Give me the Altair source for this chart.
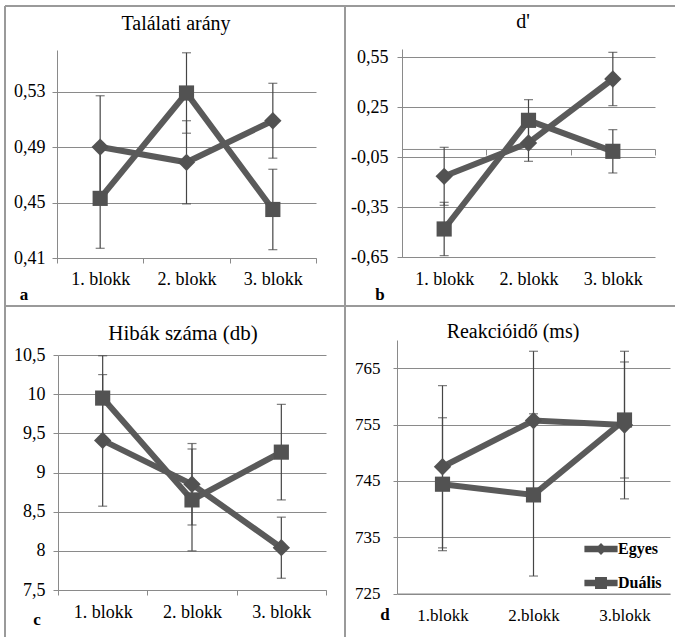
import altair as alt
import pandas as pd

# ---------------- data ----------------
BLOCKS = ["1. blokk", "2. blokk", "3. blokk"]
BLOCKS_D = ["1.blokk", "2.blokk", "3.blokk"]
SERIES = ["Egyes", "Duális"]

# a: Találati arány
A_EGYES = [0.490, 0.479, 0.509]
A_EGYES_ERR = [0.037, 0.030, 0.027]
A_DUALIS = [0.453, 0.529, 0.445]
A_DUALIS_ERR = [0.036, 0.029, 0.029]
A_TICKS = [0.41, 0.45, 0.49, 0.53]
A_DOMAIN = [0.41, 0.56]

# b: d'
B_EGYES = [-0.164, 0.036, 0.420]
B_EGYES_ERR = [0.174, 0.110, 0.160]
B_DUALIS = [-0.480, 0.172, -0.014]
B_DUALIS_ERR = [0.160, 0.124, 0.130]
B_TICKS = [-0.65, -0.35, -0.05, 0.25, 0.55]
B_DOMAIN = [-0.65, 0.60]

# c: Hibák száma (db)
C_EGYES = [9.41, 8.85, 8.04]
C_EGYES_ERR = [0.84, 0.52, 0.39]
C_DUALIS = [9.95, 8.65, 9.26]
C_DUALIS_ERR = [0.54, 0.65, 0.61]
C_TICKS = [7.5, 8, 8.5, 9, 9.5, 10, 10.5]
C_DOMAIN = [7.5, 10.5]

# d: Reakcióidő (ms)
D_EGYES = [747.5, 755.7, 754.9]
D_EGYES_ERR = [14.4, 12.3, 13.1]
D_DUALIS = [744.4, 742.5, 755.8]
D_DUALIS_ERR = [11.8, 14.4, 10.3]
D_TICKS = [725, 735, 745, 755, 765]
D_DOMAIN = [725, 770]

TITLES = ["Találati arány", "d'", "Hibák száma (db)", "Reakcióidő (ms)"]
LETTERS = ["a", "b", "c", "d"]

# ---------------- style ----------------
W, H = 675, 637
FONT = "Liberation Serif"
GRID = "#8a8a8a"
FRAME = "#9a9a9a"
LINE = "#5a5a5a"
MARK = "#525252"
ERR = "#454545"

PATH_E = "M-1,-0.19H1V0.19H-1Z M0,-0.36L0.36,0L0,0.36L-0.36,0Z"
PATH_D = "M-1,-0.19H1V0.19H-1Z M-0.36,-0.36H0.36V0.36H-0.36Z"


def make_df(blocks, egy, egy_err, dua, dua_err):
    rows = []
    for s, vals, errs in (("Egyes", egy, egy_err), ("Duális", dua, dua_err)):
        for b, v, e in zip(blocks, vals, errs):
            rows.append({"block": b, "series": s, "value": v, "lo": v - e, "hi": v + e})
    return pd.DataFrame(rows)


def panel(df, blocks, ticks, domain, geo, label_expr):
    x0, x1, top, bot = geo["x0"], geo["x1"], geo["top"], geo["bottom"]
    axis_y = bot
    if geo.get("cross_zero"):
        axis_y = bot - (0 - domain[0]) / (domain[1] - domain[0]) * (bot - top)
    xaxis = alt.Axis(
        orient="bottom", offset=axis_y - H, title=None, labelAngle=0,
        labelFont=FONT, labelFontSize=geo["fs"], labelColor="black",
        domainColor=GRID, domainWidth=1,
        ticks=geo["xtick"] > 0, tickSize=geo["xtick"], tickBand="extent",
        tickColor=GRID, labelPadding=geo["xpad"], grid=False,
    )
    yaxis = alt.Axis(
        orient="left", offset=-x0, values=ticks, title=None,
        grid=True, gridColor=GRID, gridWidth=1,
        domainColor=GRID, domainWidth=1, tickColor=GRID, tickSize=geo["ytick"],
        labelPadding=geo["ypad"], labelExpr=label_expr,
        labelFont=FONT, labelFontSize=geo["fs"], labelColor="black",
    )
    xenc = alt.X("block:N", sort=blocks, bandPosition=0.5,
                 scale=alt.Scale(type="band", domain=blocks, range=[x0, x1],
                                 paddingInner=0, paddingOuter=0),
                 axis=xaxis)
    yscale = alt.Scale(domain=domain, range=[bot, top], nice=False, zero=False)

    def Y(f):
        return alt.Y(f"{f}:Q", scale=yscale, axis=yaxis)

    base = alt.Chart(df)
    err = base.mark_rule(color=ERR, strokeWidth=1.2).encode(x=xenc, y=Y("lo"), y2="hi")
    cap_lo = base.mark_tick(color=ERR, thickness=1.2, size=9).encode(x=xenc, y=Y("lo"))
    cap_hi = base.mark_tick(color=ERR, thickness=1.2, size=9).encode(x=xenc, y=Y("hi"))
    lines = base.mark_line(color=LINE, strokeWidth=6).encode(x=xenc, y=Y("value"), detail="series:N")
    pe = base.transform_filter(alt.datum.series == "Egyes").mark_point(
        shape="diamond", filled=True, size=300, color=MARK, opacity=1
    ).encode(x=xenc, y=Y("value"))
    pd_ = base.transform_filter(alt.datum.series == "Duális").mark_point(
        shape="square", filled=True, size=230, color=MARK, opacity=1
    ).encode(x=xenc, y=Y("value"))
    return alt.layer(err, cap_lo, cap_hi, lines, pe, pd_)


GEO = {
    "a": dict(x0=57, x1=316, top=50, bottom=258, fs=18, xtick=5, xpad=7, ytick=5, ypad=7),
    "b": dict(x0=402, x1=655, top=49, bottom=257.3, fs=18, xtick=6, xpad=116, ytick=5, ypad=9, cross_zero=True),
    "c": dict(x0=58, x1=326, top=355, bottom=590, fs=18, xtick=5, xpad=8, ytick=5, ypad=8),
    "d": dict(x0=397, x1=670, top=340, bottom=593.5, fs=17, xtick=0, xpad=14, ytick=4, ypad=13),
}

FMT2 = "replace(replace(format(datum.value, '.2f'), '.', ','), '\u2212', '-')"
FMTG = "replace(format(datum.value, '~g'), '.', ',')"
FMTD = "format(datum.value, 'd')"

pa = panel(make_df(BLOCKS, A_EGYES, A_EGYES_ERR, A_DUALIS, A_DUALIS_ERR), BLOCKS, A_TICKS, A_DOMAIN, GEO["a"], FMT2)
pb = panel(make_df(BLOCKS, B_EGYES, B_EGYES_ERR, B_DUALIS, B_DUALIS_ERR), BLOCKS, B_TICKS, B_DOMAIN, GEO["b"], FMT2)
pc = panel(make_df(BLOCKS, C_EGYES, C_EGYES_ERR, C_DUALIS, C_DUALIS_ERR), BLOCKS, C_TICKS, C_DOMAIN, GEO["c"], FMTG)
pdd = panel(make_df(BLOCKS_D, D_EGYES, D_EGYES_ERR, D_DUALIS, D_DUALIS_ERR), BLOCKS_D, D_TICKS, D_DOMAIN, GEO["d"], FMTD)

# legend (panel d)
legend_layer = alt.Chart(pd.DataFrame({"series": pd.Series([], dtype=str)})).mark_point(
    filled=True, color=MARK, opacity=1
).encode(
    shape=alt.Shape("series:N", scale=alt.Scale(domain=SERIES, range=[PATH_E, PATH_D]),
                    legend=alt.Legend(orient="none", legendX=584, legendY=532, title=None,
                                      labelFont=FONT, labelFontSize=16, labelFontWeight="bold",
                                      labelColor="black", symbolSize=1100, symbolFillColor=MARK,
                                      symbolStrokeWidth=0, symbolOpacity=1, rowPadding=9,
                                      labelOffset=0, padding=0))
)

# decorations: frame, titles, panel letters
one = pd.DataFrame({"k": [0]})
FRAMES = [  # (x, x2, y, y2)
    (5, 5, 6, 637), (345, 345, 6, 637), (5, 675, 6, 6), (5, 675, 306, 306),
]
frame_layers = [
    alt.Chart(one).mark_rule(color=FRAME, strokeWidth=2).encode(
        x=alt.value(a), x2=alt.value(b), y=alt.value(c), y2=alt.value(d))
    for a, b, c, d in FRAMES
]
TITLE_POS = [(176, 30, 20), (523, 28, 20), (183, 340, 21), (513, 338, 20)]
title_layers = [
    alt.Chart(one).mark_text(text=t, font=FONT, fontSize=fs, color="black",
                             align="center", baseline="alphabetic").encode(
        x=alt.value(x), y=alt.value(y))
    for t, (x, y, fs) in zip(TITLES, TITLE_POS)
]
LETTER_POS = [(24, 300), (380, 300), (37, 625), (385, 620)]
letter_layers = [
    alt.Chart(one).mark_text(text=t, font=FONT, fontSize=17, fontWeight="bold", color="black",
                             align="center", baseline="alphabetic").encode(
        x=alt.value(x), y=alt.value(y))
    for t, (x, y) in zip(LETTERS, LETTER_POS)
]

chart = alt.layer(
    *frame_layers, pa, pb, pc, pdd, legend_layer, *title_layers, *letter_layers
).resolve_scale(
    x="independent", y="independent", shape="independent"
).resolve_axis(
    x="independent", y="independent"
).properties(
    width=W, height=H, padding=0, background="white",
    autosize=alt.AutoSizeParams(type="none"),
).configure_view(stroke=None)

chart.save("out.html", embed_options={"renderer": "svg", "actions": False})
